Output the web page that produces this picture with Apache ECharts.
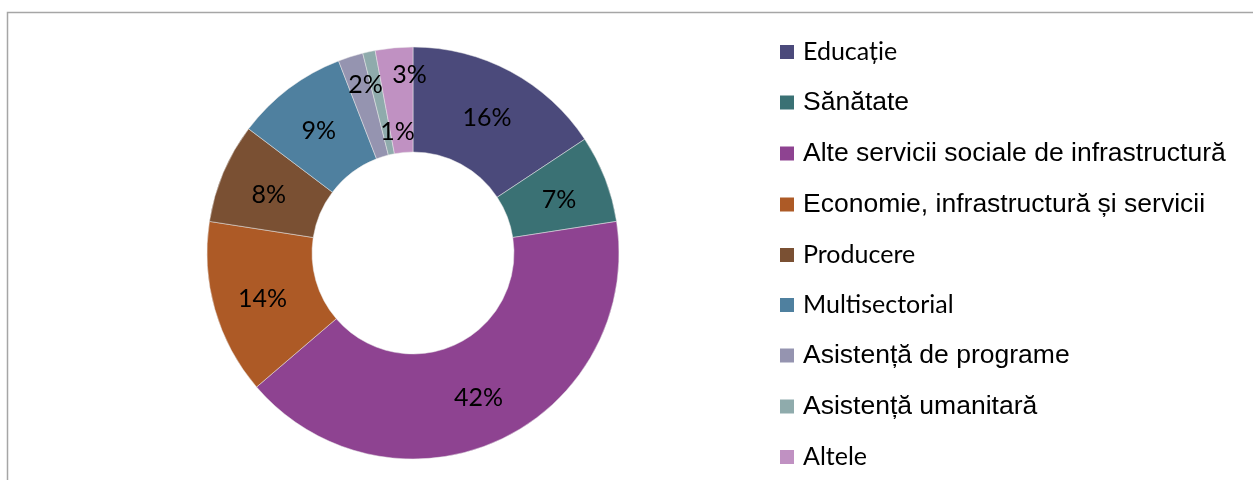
<!DOCTYPE html>
<html>
<head>
<meta charset="utf-8">
<script src="https://cdn.jsdelivr.net/npm/echarts@6/dist/echarts.min.js"></script>
<style>
  html, body { margin: 0; padding: 0; background: #ffffff; }
  #chart { width: 1253px; height: 480px; }
</style>
</head>
<body>
<div id="chart"></div>
<script>
// categorii si procente (asa cum apar pe grafic)
var categories = [
    'Educație',
    'Sănătate',
    'Alte servicii sociale de infrastructură',
    'Economie, infrastructură și servicii',
    'Producere',
    'Multisectorial',
    'Asistență de programe',
    'Asistență umanitară',
    'Altele'
];
var values = [16, 7, 42, 14, 8, 9, 2, 1, 3];
var colors = ['#4b4a7b', '#3a7174', '#8e4391', '#ad5a26', '#7a5033', '#4f809f', '#9594b0', '#8fabac', '#c091c2'];
// unele etichete din legenda sunt Calibri, altele Arial
var legendFonts = ['Lato', 'Liberation Sans', 'Liberation Sans', 'Liberation Sans', 'Lato', 'Lato', 'Liberation Sans', 'Liberation Sans', 'Lato'];

var myChart = echarts.init(document.getElementById('chart'));

var pieData = categories.map(function (name, i) {
    return { name: name, value: values[i], itemStyle: { color: colors[i] } };
});

var legendData = categories.map(function (name, i) {
    var arial = legendFonts[i] === 'Liberation Sans';
    return {
        name: name,
        icon: 'rect',
        textStyle: {
            fontFamily: legendFonts[i],
            fontSize: arial ? 26.5 : 25
        }
    };
});

// etichetele felilor mici sunt decalate ca in Excel
var smallLabelShift = {
    6: { dx: 0, dy: -19 },
    7: { dx: 18, dy: 32 },
    8: { dx: 11, dy: -22 }
};

myChart.setOption({
    animation: false,
    backgroundColor: '#ffffff',
    graphic: [
        {
            type: 'rect',
            silent: true,
            shape: { x: 7.5, y: 12.5, width: 1300, height: 500 },
            style: { fill: null, stroke: '#a6a6a6', lineWidth: 1.5 }
        }
    ],
    legend: {
        orient: 'vertical',
        left: 780,
        top: 39,
        padding: 0,
        itemWidth: 14,
        itemHeight: 14,
        itemGap: 24,
        selectedMode: false,
        itemStyle: { borderWidth: 0 },
        textStyle: {
            color: '#000000',
            lineHeight: 26,
            padding: [0, 0, 0, 4]
        },
        data: legendData
    },
    series: [
        {
            type: 'pie',
            center: [413, 253],
            radius: [101, 206],
            startAngle: 90,
            clockwise: true,
            avoidLabelOverlap: false,
            itemStyle: {
                borderColor: '#e8e8e8',
                borderWidth: 0.5
            },
            label: {
                show: true,
                position: 'inside',
                formatter: '{c}%',
                color: '#000000',
                fontFamily: 'Lato',
                fontSize: 25
            },
            labelLine: { show: false },
            labelLayout: function (params) {
                return smallLabelShift[params.dataIndex] || { dy: 3 };
            },
            emphasis: { disabled: true },
            data: pieData
        }
    ]
});
</script>
</body>
</html>
